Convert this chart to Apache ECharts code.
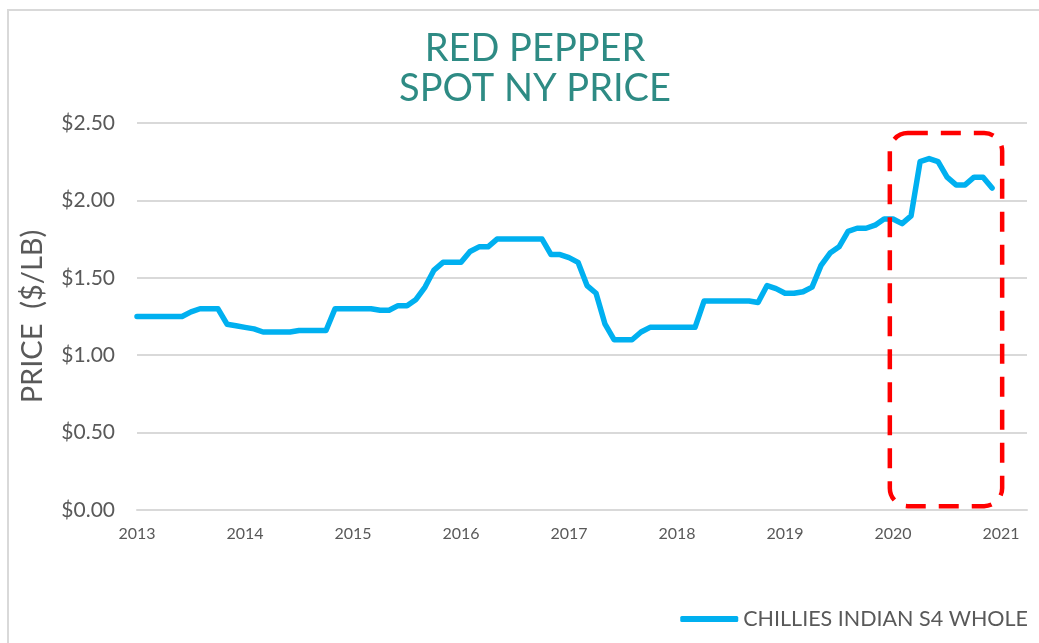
<!DOCTYPE html>
<html><head><meta charset="utf-8">
<script src="https://cdn.jsdelivr.net/npm/echarts@6/dist/echarts.min.js"></script>
<style>html,body{margin:0;padding:0;background:#fff}#c{width:1039px;height:643px}</style>
</head><body><div id="c"></div>
<script>
// ---- data ----
const titleLines = ['RED PEPPER', 'SPOT NY PRICE'];
const seriesName = 'CHILLIES INDIAN S4 WHOLE';
const yAxisName = 'PRICE  ($/LB)';
const startYear = 2013;
const yearTicks = [2013, 2014, 2015, 2016, 2017, 2018, 2019, 2020, 2021];
const priceTicks = [0, 0.5, 1.0, 1.5, 2.0, 2.5];
// monthly spot price, Jan 2013 .. Dec 2020 ($/lb)
const prices = [
  1.25, 1.25, 1.25, 1.25, 1.25, 1.25, 1.28, 1.30, 1.30, 1.30, 1.20, 1.19,
  1.18, 1.17, 1.15, 1.15, 1.15, 1.15, 1.16, 1.16, 1.16, 1.16, 1.30, 1.30,
  1.30, 1.30, 1.30, 1.29, 1.29, 1.32, 1.32, 1.36, 1.44, 1.55, 1.60, 1.60,
  1.60, 1.67, 1.70, 1.70, 1.75, 1.75, 1.75, 1.75, 1.75, 1.75, 1.65, 1.65,
  1.63, 1.60, 1.45, 1.40, 1.20, 1.10, 1.10, 1.10, 1.15, 1.18, 1.18, 1.18,
  1.18, 1.18, 1.18, 1.35, 1.35, 1.35, 1.35, 1.35, 1.35, 1.34, 1.45, 1.43,
  1.40, 1.40, 1.41, 1.44, 1.58, 1.66, 1.70, 1.80, 1.82, 1.82, 1.84, 1.88,
  1.88, 1.85, 1.90, 2.25, 2.27, 2.25, 2.15, 2.10, 2.10, 2.15, 2.15, 2.08
];
// highlighted period (data coordinates: year, price)
const highlight = { fromYear: 2019.97, toYear: 2021.01, low: 0.025, high: 2.435 };

// ---- build ----
const months = prices.map((_, i) => {
  const y = startYear + Math.floor(i / 12), m = (i % 12) + 1;
  return y + '-' + String(m).padStart(2, '0');
});
const monthToYear = s => { const [y, m] = s.split('-').map(Number); return y + (m - 1) / 12; };
const seriesData = months.map((mo, i) => [monthToYear(mo), prices[i]]);

const FONT = 'Lato';
const GRAY = '#595959';
const chart = echarts.init(document.getElementById('c'), null, { renderer: 'canvas' });
chart.setOption({
  animation: false,
  backgroundColor: '#fff',
  title: {
    text: titleLines.join('\n'),
    left: 530, top: 24, textAlign: 'center',
    textStyle: { color: '#2E8B84', fontFamily: FONT, fontWeight: 'normal', fontSize: 38, lineHeight: 40 }
  },
  grid: { left: 137, right: 12, top: 123, bottom: 133, containLabel: false },
  legend: {
    data: [seriesName], right: 11, top: 608, padding: 0,
    icon: 'roundRect', itemWidth: 58, itemHeight: 6,
    textStyle: { color: GRAY, fontFamily: FONT, fontSize: 21.5 }
  },
  xAxis: {
    type: 'value', min: yearTicks[0], max: 2021.24, interval: 1,
    axisLine: { show: true, lineStyle: { color: '#D9D9D9', width: 2 } },
    axisTick: { show: false }, splitLine: { show: false },
    axisLabel: {
      color: GRAY, fontFamily: FONT, fontSize: 16, margin: 16, showMaxLabel: false,
      formatter: v => yearTicks.includes(Math.round(v * 1000) / 1000) ? String(v) : ''
    }
  },
  yAxis: {
    type: 'value', min: priceTicks[0], max: priceTicks[priceTicks.length - 1], interval: 0.5,
    name: yAxisName, nameLocation: 'middle', nameGap: 90, nameRotate: 90,
    nameTextStyle: { color: GRAY, fontFamily: FONT, fontSize: 29 },
    axisLine: { show: false }, axisTick: { show: false },
    splitLine: { lineStyle: { color: '#D9D9D9', width: 2 } },
    axisLabel: { color: GRAY, fontFamily: FONT, fontSize: 21, margin: 22, formatter: v => '$' + v.toFixed(2) }
  },
  series: [{
    name: seriesName, type: 'line', data: seriesData, showSymbol: false, symbol: 'none',
    color: '#00B0F0',
    lineStyle: { color: '#00B0F0', width: 5.5, cap: 'round', join: 'round' }
  }]
});

const p1 = chart.convertToPixel({ gridIndex: 0 }, [highlight.fromYear, highlight.high]);
const p2 = chart.convertToPixel({ gridIndex: 0 }, [highlight.toYear, highlight.low]);
chart.setOption({
  graphic: [
    { type: 'rect', silent: true, z: -1,
      shape: { x: 8, y: 10, width: 1100, height: 700 },
      style: { fill: 'none', stroke: '#D9D9D9', lineWidth: 2 } },
    { type: 'rect', silent: true, z: 100,
      shape: { x: p1[0], y: p1[1], width: p2[0] - p1[0], height: p2[1] - p1[1], r: 18 },
      style: { fill: 'none', stroke: '#FF0000', lineWidth: 4.5, lineDash: [20, 13] } }
  ]
});
</script></body></html>
